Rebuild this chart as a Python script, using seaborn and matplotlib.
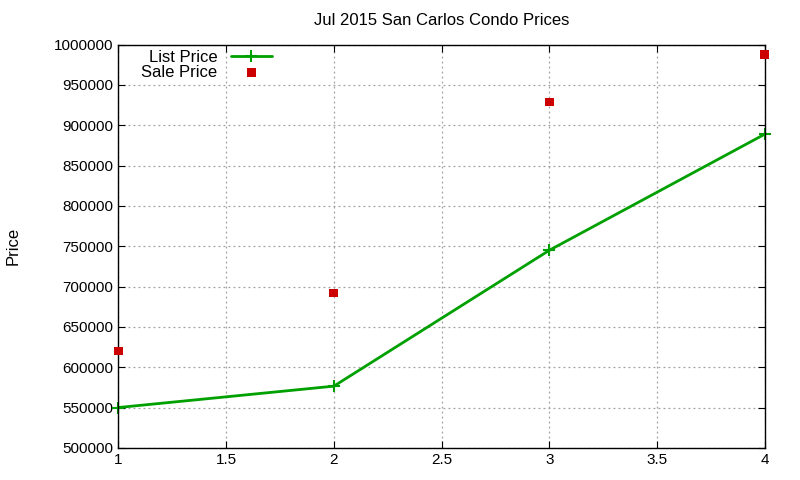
import matplotlib
matplotlib.use('Agg')
import matplotlib.pyplot as plt
import seaborn as sns
import pandas as pd

# values
months = [1, 2, 3, 4]
list_price = [550000, 576500, 745000, 889000]
sale_price = [620000, 692000, 929000, 988000]

data = pd.DataFrame({'x': months, 'list': list_price, 'sale': sale_price})

sns.set_style('white')
plt.rcParams['font.family'] = ['Liberation Sans', 'DejaVu Sans']

fig = plt.figure(figsize=(8, 4.8), dpi=100)
ax = fig.add_axes([0.148, 0.067, 0.808, 0.84])

sns.lineplot(data=data, x='x', y='list', ax=ax, color='#00a000', linewidth=2,
             marker='+', markersize=8, markeredgewidth=1.5, markeredgecolor='#00a000',
             label='List Price')
sns.scatterplot(data=data, x='x', y='sale', ax=ax, color='#cc0000', marker='s',
                s=40, edgecolor='none', label='Sale Price', zorder=5)

for ln in ax.lines:
    ln.set_clip_on(False)
for c in ax.collections:
    c.set_clip_on(False)

ax.set_xlim(1, 4)
ax.set_ylim(500000, 1000000)
ax.set_xticks([1, 1.5, 2, 2.5, 3, 3.5, 4])
ax.set_xticklabels(['1', '1.5', '2', '2.5', '3', '3.5', '4'])
ax.set_yticks(range(500000, 1000001, 50000))
ax.set_yticklabels([str(v) for v in range(500000, 1000001, 50000)])
ax.tick_params(labelsize=11, direction='in', length=5, color='black', labelcolor='black',
               left=True, bottom=True, right=True, top=True)
ax.grid(True, color='#a0a0a0', linestyle=(0, (1.5, 2.5)), linewidth=0.9)
for s in ax.spines.values():
    s.set_color('black')
    s.set_linewidth(1)

ax.set_xlabel('')
ax.set_ylabel('Price', fontsize=12, labelpad=24, color='black')
ax.set_title('Jul 2015 San Carlos Condo Prices', fontsize=12, pad=14, color='black')

leg = ax.legend(loc='upper left', bbox_to_anchor=(0.017, 1.015), frameon=False, fontsize=12,
                markerfirst=False, handlelength=2.5, borderaxespad=0.3, labelspacing=0.0)
for t in leg.get_texts():
    t.set_ha('right')
    t.set_color('black')

fig.savefig('out.png', dpi=100)
